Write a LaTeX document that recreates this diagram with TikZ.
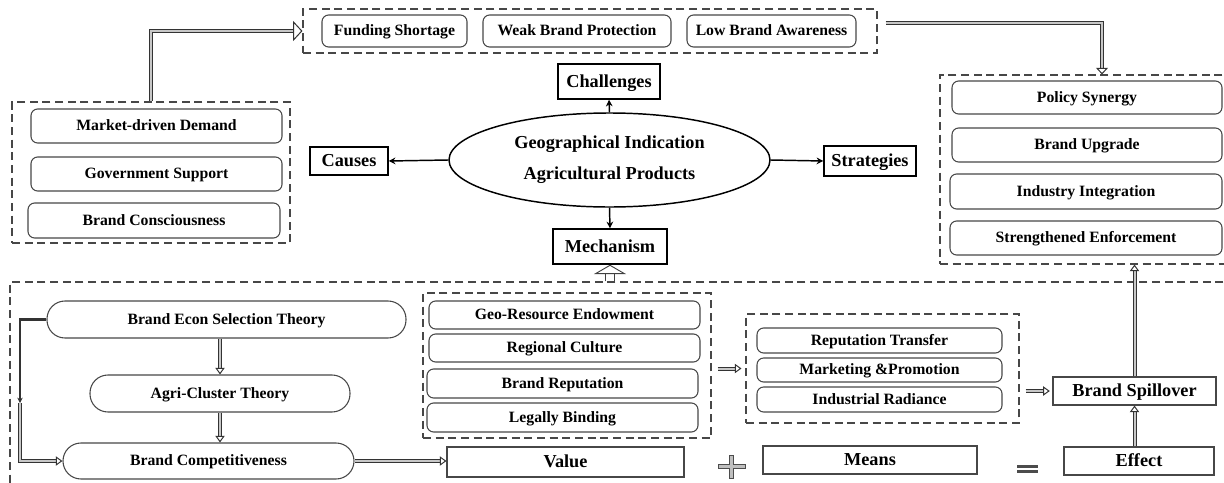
\documentclass[tikz,border=0pt]{standalone}
\usepackage{fontspec}
\setmainfont{Liberation Serif}
\usetikzlibrary{arrows.meta,shapes.geometric,calc}
\begin{document}
\begin{tikzpicture}[x=0.75pt,y=-0.75pt,
  sz/.style 2 args={minimum width=#1*0.75pt, minimum height=#2*0.75pt, inner sep=0pt},
  small/.style={font=\fontsize{11.8}{13}\selectfont\bfseries, text height=7.6pt, text depth=0.3pt},
  large/.style={font=\fontsize{13.7}{16}\selectfont\bfseries, text height=8.9pt, text depth=0.4pt},
  rbox/.style={draw=black!72, line width=0.8pt, rounded corners=5pt, small},
  pill/.style={draw=black!72, line width=0.8pt, rounded corners=13.5pt, small},
  kbox/.style={draw=black, line width=1.1pt, large},
  gbox/.style={draw=black!72, line width=0.8pt, large},
  dbox/.style={draw=black!72, line width=0.8pt, dash pattern=on 6pt off 3.5pt},
  conn/.style={draw=black, line width=1.1pt, -{Stealth[length=5pt,width=5pt]}},
  dbl/.style={draw=black!80, line width=0.75pt, double=black!22, double distance=1.5pt},
  hol/.style={-{Triangle[length=5pt,width=7pt,fill=white]}},
]
\useasboundingbox (0,0) rectangle (1224,482);
\clip (0,0) rectangle (1224,482);

% challenges group
\node[dbox, sz={574}{44}] (chbox) at (590,31) {};
\node[rbox, sz={145}{32}] (fund) at (394.5,31) {Funding Shortage};
\node[rbox, sz={188}{32}] (weak) at (577,31) {Weak Brand Protection};
\node[rbox, sz={169}{32}] (low) at (771.5,31) {Low Brand Awareness};

% causes group
\node[dbox, sz={278}{141}] (causebox) at (151,172.5) {};
\node[rbox, sz={251}{34}] (market) at (156.5,126) {Market-driven Demand};
\node[rbox, sz={251}{34}] (gov) at (156.5,174) {Government Support};
\node[rbox, sz={252}{35}] (consc) at (154,220.5) {Brand Consciousness};

% centre
\node[kbox, sz={78}{28}] (causes) at (349,161) {Causes};
\node[kbox, sz={102}{35}] (chall) at (609,81.5) {Challenges};
\node[draw=black, line width=1.1pt, ellipse, minimum width=321*0.75pt,
      minimum height=94*0.75pt, inner sep=0pt, align=center,
      font=\fontsize{13.7}{23}\selectfont\bfseries] (gi) at (609.5,160)
      {Geographical Indication\\Agricultural Products};
\node[kbox, sz={114}{35}] (mech) at (610,246.5) {Mechanism};
\node[kbox, sz={92}{30}] (strat) at (870,161) {Strategies};

\draw[conn] (gi.west) -- (causes.east);
\draw[conn] (gi.east) -- (strat.west);
\draw[conn] (gi.north) -- (chall.south);
\draw[conn] (gi.south) -- (mech.north);

% strategies group
\node[dbox, sz={300}{189}] (stratbox) at (1090,169.5) {};
\node[rbox, sz={270}{33}] (policy) at (1087,97.5) {Policy Synergy};
\node[rbox, sz={270}{34}] (upgrade) at (1087,145) {Brand Upgrade};
\node[rbox, sz={272}{35}] (industry) at (1086,191.5) {Industry Integration};
\node[rbox, sz={272}{34}] (enforce) at (1086,238) {Strengthened Enforcement};

% mechanism frame
\node[dbox, sz={1230}{210}] (frame) at (625,387) {};
\node[pill, sz={359}{37}] (econ) at (226.5,319.5) {Brand Econ Selection Theory};
\node[pill, sz={260}{37}] (agri) at (220,393.5) {Agri-Cluster Theory};
\node[pill, sz={291}{36}] (comp) at (208.5,461) {Brand Competitiveness};

\node[dbox, sz={288}{145}] (valbox) at (567,365.5) {};
\node[rbox, sz={271}{28}] (geo1) at (564.5,315) {Geo-Resource Endowment};
\node[rbox, sz={271}{28}] (geo2) at (564.5,348) {Regional Culture};
\node[rbox, sz={271}{29}] (geo3) at (562.5,383.5) {Brand Reputation};
\node[rbox, sz={271}{29}] (geo4) at (562.5,417.5) {Legally Binding};
\node[gbox, sz={237}{30}] (value) at (565.5,462) {Value};

\node[dbox, sz={273}{109}] (meanbox) at (882.5,368.5) {};
\node[rbox, sz={245}{25}] (rep1) at (879.5,340.5) {Reputation Transfer};
\node[rbox, sz={245}{24}] (rep2) at (879.5,370) {Marketing \&Promotion};
\node[rbox, sz={245}{25}] (rep3) at (879.5,399.5) {Industrial Radiance};
\node[gbox, sz={214}{28}] (means) at (870,460) {Means};
\node[gbox, sz={163}{28}] (spill) at (1134.5,391) {Brand Spillover};
\node[gbox, sz={150}{28}] (effect) at (1139,461) {Effect};

% double / hollow connectors
\draw[dbl, -{Triangle[length=7pt,width=15pt,fill=white]}] (causebox.north) |- (chbox.west);
\coordinate (tr) at ($(chbox.east)+(8,-8)$);
\draw[dbl, -{Triangle[length=5pt,width=9pt,fill=white]}] (tr) -| ($(stratbox.north)+(12,0)$);
\draw[draw=black!75, line width=0.7pt, double=white, double distance=6pt,
      -{Triangle[length=7pt,width=24pt,fill=white]}] (mech.south |- frame.north) -- (mech.south);

\draw[dbl, hol] (agri.north |- econ.south) -- (agri.north);
\draw[dbl, hol] (agri.south) -- (agri.south |- comp.north);
\coordinate (fb) at (20,403);
\draw[draw=black!80, line width=1.8pt, -{Stealth[length=4pt,width=4pt]}] (econ.west) -| (fb);
\draw[dbl, hol] (fb) |- (comp.west);
\draw[dbl, hol] (comp.east) -- (comp.east -| value.west);
\draw[dbl, hol, shorten <=4.5pt, shorten >=3pt] (valbox.east |- meanbox.west) -- (meanbox.west);
\draw[dbl, hol, shorten <=4.5pt, shorten >=2pt] (meanbox.east |- spill.west) -- (spill.west);
\draw[dbl, hol] (effect.north -| spill.south) -- (spill.south);
\draw[dbl, hol] (spill.north) -- (spill.north |- stratbox.south);

% plus and equals signs
\draw[draw=black!70, fill=black!25, line width=0.5pt]
  (729.5,455) -- (733.5,455) -- (733.5,464.5) -- (745,464.5) -- (745,468.5) -- (733.5,468.5)
  -- (733.5,478) -- (729.5,478) -- (729.5,468.5) -- (718,468.5) -- (718,464.5) -- (729.5,464.5) -- cycle;
\fill[black!70] (1017,464.5) rectangle (1038,467.5);
\fill[black!70] (1017,469.5) rectangle (1038,472.5);
\end{tikzpicture}
\end{document}
